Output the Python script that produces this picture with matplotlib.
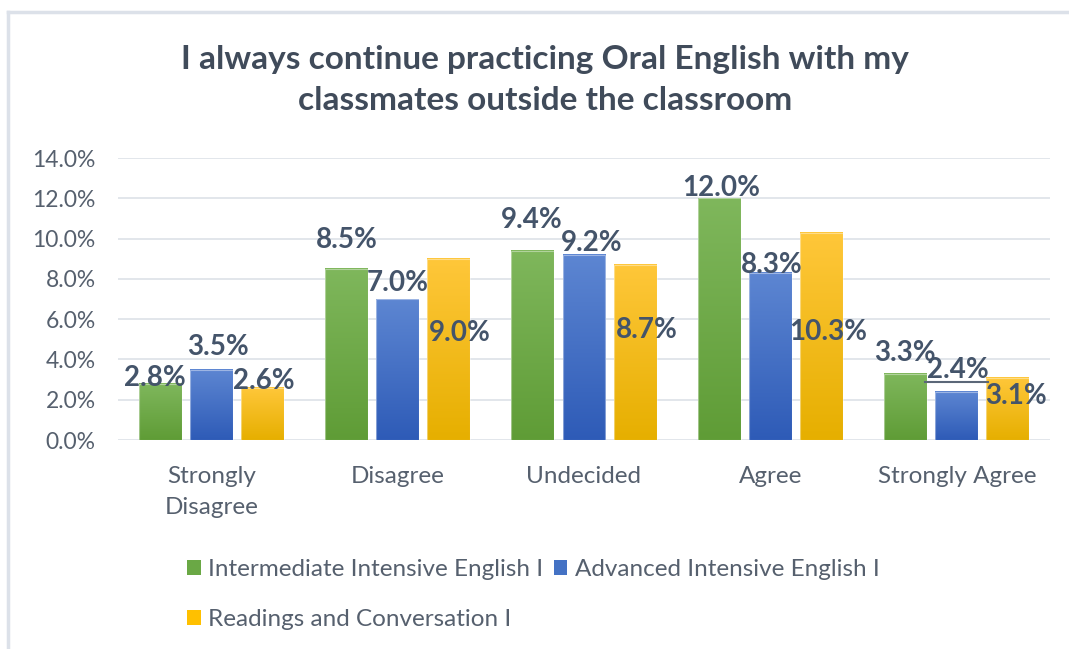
import matplotlib

matplotlib.use("Agg")
import matplotlib.pyplot as plt
import numpy as np
from matplotlib.colors import LinearSegmentedColormap
from matplotlib.lines import Line2D
from matplotlib.patches import Patch
from matplotlib.transforms import offset_copy

plt.rcParams["font.family"] = ["Lato", "DejaVu Sans"]

categories = ["Strongly\nDisagree", "Disagree", "Undecided", "Agree", "Strongly Agree"]
series_names = [
    "Intermediate Intensive English I",
    "Advanced Intensive English I",
    "Readings and Conversation I",
]
intermediate = [2.8, 8.5, 9.4, 12.0, 3.3]
advanced = [3.5, 7.0, 9.2, 8.3, 2.4]
readings = [2.6, 9.0, 8.7, 10.3, 3.1]
yticks = [0, 2, 4, 6, 8, 10, 12, 14]

# gradient (top, bottom) per series
grads = [("#7FB75C", "#5F9C36"), ("#5D86D2", "#2E5BB7"), ("#FFC73A", "#E6AF00")]
legend_colors = ["#6AA845", "#4472C4", "#FFC000"]

# label offsets in pixels (dx, dy) from each bar's top centre
label_offsets = [
    [(-5, -6), (0, -29), (-1, -31), (2, -10), (-1, -21)],
    [(7, -23), (0, -16), (8, -12), (1, -8), (1, -22)],
    [(2, -7), (11, 74), (12, 65), (7, 99), (8, 18)],
]

TEXT = "#44546A"
AXTEXT = "#56606E"

fig = plt.figure(figsize=(10.69, 6.49), dpi=100)
ax = fig.add_axes([0.1104, 0.322, 0.8718, 0.4345])

x = np.arange(len(categories))
width = 0.23
step = 0.274
ax.set_xlim(-0.5, len(categories) - 0.5)
ax.set_ylim(0, 14)

for i, vals in enumerate([intermediate, advanced, readings]):
    bars = ax.bar(x + (i - 1) * step, vals, width, color="none",
                  edgecolor="none", zorder=2)
    cmap = LinearSegmentedColormap.from_list(f"g{i}", [grads[i][1], grads[i][0]])
    for j, b in enumerate(bars):
        x0, w, h = b.get_x(), b.get_width(), b.get_height()
        grad = np.linspace(0, 1, 256).reshape(-1, 1)
        ax.imshow(grad, cmap=cmap, origin="lower", aspect="auto",
                  extent=(x0, x0 + w, 0, h), zorder=2, interpolation="bilinear")
        ax.add_patch(plt.Rectangle((x0, 0), w, h, fill=False,
                                   edgecolor="white", lw=0.8, alpha=0.4, zorder=3))
        dx, dy = label_offsets[i][j]
        ax.annotate(f"{vals[j]:.1f}%", (x0 + w / 2, h),
                    xytext=(dx * 0.72, -dy * 0.72), textcoords="offset points",
                    ha="center", va="center", fontsize=20, fontweight="bold",
                    color=TEXT, zorder=5)

# leader line under the 2.4% label
j = 4
tr = offset_copy(ax.transData, fig=fig, x=0, y=7, units="points")
ax.plot([x[j] - 0.17, x[j] + 0.17], [advanced[j], advanced[j]],
        color="#5B6778", lw=1.5, transform=tr, zorder=4)

ax.set_yticks(yticks)
ax.set_yticklabels([f"{t:.1f}%" for t in yticks])
ax.set_xticks(x)
ax.set_xticklabels(categories, linespacing=1.55)
ax.tick_params(axis="both", length=0, colors=AXTEXT)
ax.tick_params(axis="y", pad=16, labelsize=16.5)
ax.tick_params(axis="x", pad=19, labelsize=17.5)
ax.grid(axis="y", color="#DDE1E8", lw=1.2, zorder=0)
ax.set_axisbelow(True)
for s in ax.spines.values():
    s.set_visible(False)

fig.text(0.51, 0.877,
         "I always continue practicing Oral English with my\nclassmates outside the classroom",
         ha="center", va="center", fontsize=24, fontweight="bold",
         color="#404B5A", linespacing=1.5)

handles = [Patch(facecolor=c, edgecolor="none") for c in legend_colors]
order = [0, 2, 1]
fig.legend([handles[k] for k in order], [series_names[k] for k in order],
           ncol=2, loc="upper left", bbox_to_anchor=(0.166, 0.154),
           bbox_transform=fig.transFigure, frameon=False, fontsize=17.5,
           labelcolor=AXTEXT, handlelength=0.55, handleheight=0.55,
           handletextpad=0.3, columnspacing=0.45, labelspacing=1.2,
           borderaxespad=0)

# outer chart frame (top and left edges)
fig.add_artist(Line2D([8 / 1069, 1], [1 - 12 / 649, 1 - 12 / 649],
                      transform=fig.transFigure, color="#DCE1E9", lw=2.5))
fig.add_artist(Line2D([8 / 1069, 8 / 1069], [0, 1 - 12 / 649],
                      transform=fig.transFigure, color="#DCE1E9", lw=2.5))

fig.savefig("out.png", dpi=100)
